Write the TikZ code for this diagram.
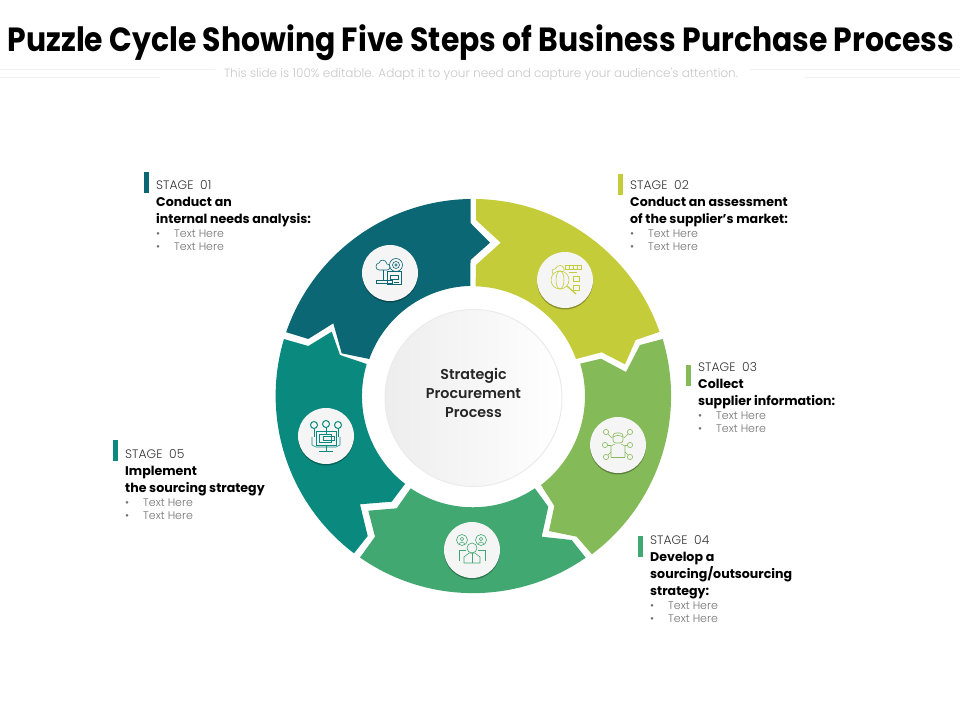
\documentclass[tikz,border=0pt]{standalone}
\usepackage{fontspec}
\setmainfont{Poppins}
\newfontfamily\lightfont{Poppins Light}
\newfontfamily\hubfont{Poppins SemiBold}
\usepackage{tikz}
\usetikzlibrary{positioning,shadows}

\definecolor{tealA}{HTML}{0B6774}
\definecolor{limeB}{HTML}{C5CC3A}
\definecolor{greenC}{HTML}{84BA57}
\definecolor{greenD}{HTML}{41A871}
\definecolor{tealE}{HTML}{0A8A7F}

\newcommand{\bulletline}{\makebox[18pt][l]{\textbullet}Text Here}

\tikzset{
  iconbg/.style={circle, fill=white!96!black, minimum size=56pt, inner sep=0pt,
    drop shadow={shadow xshift=0pt, shadow yshift=-1.5pt, opacity=0.3, fill=black}},
  iconline/.style={line width=0.6pt, fill=none},
  stagebar/.style={minimum width=5pt, minimum height=21pt, inner sep=0pt},
  stagetxt/.style={anchor=north west, align=left, inner sep=0pt, font=\fontsize{12.3}{13}\lightfont, text=black!80},
  stagehead/.style={anchor=north west, align=left, inner sep=0pt, font=\fontsize{12.6}{17}\selectfont\bfseries, text=black},
  stagelist/.style={anchor=north west, align=left, inner sep=0pt, font=\fontsize{11}{13}\lightfont, text=black!55},
}

\begin{document}
\begin{tikzpicture}[x=1pt, y=1pt]
  \useasboundingbox (0,0) rectangle (960,720);

  % Titolo
  \node (title) at (481,677) [font=\fontsize{33.5}{36}\selectfont\bfseries, inner sep=0pt, xscale=0.892, transform shape] {Puzzle Cycle Showing Five Steps of Business Purchase Process};
  \node (subtitle) at (481,645.5) [font=\fontsize{12}{13}\lightfont, text=black!22, inner sep=0pt] {This slide is 100\% editable. Adapt it to your need and capture your audience's attention.};
  \coordinate (ruleAa) at (0,651);
  \coordinate (ruleAb) at (215,651);
  \coordinate (ruleBa) at (0,643);
  \coordinate (ruleBb) at (160,643);
  \coordinate (ruleCa) at (750,651);
  \coordinate (ruleCb) at (960,651);
  \coordinate (ruleDa) at (805,643);
  \coordinate (ruleDb) at (960,643);
  \draw[black!5] (ruleAa) -- (ruleAb);
  \draw[black!5] (ruleBa) -- (ruleBb);
  \draw[black!5] (ruleCa) -- (ruleCb);
  \draw[black!5] (ruleDa) -- (ruleDb);

  % Settori
  \fill[tealA] (470.5,521) arc[start angle=90.7, end angle=161, radius=197.5]
    -- (308.3,381) -- (333.3,396.7) -- (341.7,366.7) -- (369.3,361)
    arc[start angle=160.4, end angle=91.3, radius=110]
    -- (470.5,460) -- (490,477.3) -- (470.5,497) -- cycle;
  \fill[limeB] (476,521) arc[start angle=89.1, end angle=19.1, radius=197.5]
    -- (635.7,380) -- (625,355.7) -- (601.7,367.7) -- (576,361)
    arc[start angle=19.8, end angle=88.4, radius=110]
    -- (476,455) -- (500.7,477.3) -- (476,500) -- cycle;
  \fill[greenC] (662.7,381) arc[start angle=16.7, end angle=-53.1, radius=198]
    -- (576.7,183.3) -- (549,189) -- (554.3,214) -- (541,235)
    arc[start angle=-52.6, end angle=16.8, radius=112]
    -- (601,361.3) -- (626,348) -- (640,375) -- cycle;
  \fill[greenD] (585.7,162.3) arc[start angle=-55.1, end angle=-125, radius=197]
    -- (375,183.3) -- (368.3,209.3) -- (396.7,211.7) -- (410.7,231.7)
    arc[start angle=-124, end angle=-56, radius=111]
    -- (548.3,213.3) -- (541.7,183.3) -- (571.7,180) -- cycle;
  \fill[tealE] (354,166.7) arc[start angle=232.9, end angle=163.3, radius=197.5]
    -- (308.3,374) -- (331.7,388.3) -- (340,365) -- (366.7,356)
    arc[start angle=163.2, end angle=232.3, radius=111]
    -- (391.7,218.3) -- (360,215.7) -- (367.7,184) -- cycle;

  % Centro
  \node (hub) at (473.5,322) [circle, minimum size=177pt, inner sep=0pt, draw=black!8, line width=1pt,
    left color=black!7, right color=white] {};
  \node (hubtext) at (473.5,327) [align=center, inner sep=0pt, font=\fontsize{14.3}{19}\hubfont, text=black!85] {Strategic\\Procurement\\Process};

  % Cerchi
  \node (iconA) at (390,447) [iconbg] {};
  \node (iconB) at (565,440) [iconbg] {};
  \node (iconC) at (618,275) [iconbg] {};
  \node (iconD) at (472,170) [iconbg] {};
  \node (iconE) at (326,284) [iconbg] {};

  % Icona 1
  \begin{scope}[shift={(iconA.center)}, iconline, tealA]
    \draw (-3,3) .. controls (1,3) and (1,9) .. (-3,9) .. controls (-4,14) and (-10,14) .. (-11,10) .. controls (-15,10) and (-15,3) .. (-11,3) -- cycle;
    \draw (6,8) circle (6.5);
    \draw (6,8) circle (3.5);
    \draw (6,8) circle (1.2);
    \draw (-3,2) rectangle (11,-11);
    \draw (0,-2) rectangle (8,-6);
    \draw (-7,3) -- (-7,-8);
    \draw (-14,-7) rectangle (2,-10);
    \draw (4,-9) -- (9,-9);
  \end{scope}

  % Icona 2
  \begin{scope}[shift={(iconB.center)}, iconline, limeB]
    \draw (-5,0) circle (9);
    \draw (-5,0) ellipse (4 and 9);
    \draw (-10,11) .. controls (-8,16) and (0,16) .. (-1,9);
    \draw (-12,6) .. controls (-14,10) and (-12,12) .. (-10,11);
    \draw[line width=1.2pt] (2,-6) -- (11,-14);
    \draw (0,15) rectangle (16,11);
    \draw (4,15) -- (4,11);
    \draw (8,15) -- (8,11);
    \draw (12,15) -- (12,11);
    \draw (8,4) rectangle (14,-1);
    \draw (8,-5) rectangle (14,-10);
    \draw (4,8) -- (12,8);
  \end{scope}

  % Icona 3
  \begin{scope}[shift={(iconC.center)}, iconline, greenC]
    \draw[rounded corners=3pt] (-5,12) rectangle (5,2);
    \draw (-5,8) .. controls (-2,10) and (2,10) .. (5,8);
    \draw (-7,-12) -- (-7,-1) -- (-3,1);
    \draw (7,-12) -- (7,-1) -- (3,1);
    \draw (-7,-12) -- (7,-12);
    \draw (-12,13) circle (2.6);
    \draw (12,13) circle (2.6);
    \draw (-13,0) circle (2.6);
    \draw (12,0) circle (2.6);
    \draw (-12,-12) circle (2.6);
    \draw (12,-12) circle (2.6);
    \draw (-10,11) -- (-6,7);
    \draw (10,11) -- (6,7);
    \draw (-10.4,0) -- (-7,0);
    \draw (9.4,0) -- (7,0);
    \draw (-10,-10) -- (-7,-7);
    \draw (10,-10) -- (7,-7);
  \end{scope}

  % Icona 4
  \begin{scope}[shift={(iconD.center)}, iconline, greenD]
    \draw (-10,10) circle (5.5);
    \draw (9,10) circle (5.5);
    \draw (-10,11) circle (1.8);
    \draw (9,11) circle (1.8);
    \draw (-13,6.5) -- (-10,8) -- (-7,6.5);
    \draw (12,6.5) -- (9,8) -- (6,6.5);
    \draw (0,2) circle (5);
    \draw (-8,-13) -- (-8,-7) -- (-3,-3) -- (3,-3) -- (8,-7) -- (8,-13) -- cycle;
    \draw (0,-3) -- (0,-13);
    \draw (-13,0) -- (-13,-11);
    \draw (13,0) -- (13,-11);
    \draw (-13,0) -- (-6,0);
    \draw (13,0) -- (6,0);
  \end{scope}

  % Icona 5
  \begin{scope}[shift={(iconE.center)}, iconline, tealE]
    \draw[line width=1pt] (-12,11) circle (3.5);
    \draw[line width=1pt] (0,12) circle (3.5);
    \draw[line width=1pt] (12,11) circle (3.5);
    \draw (-10,-9) rectangle (10,5);
    \draw (-7,-6) rectangle (5,2);
    \draw (-3,0) rectangle (8,-4);
    \draw (-12,7.5) -- (-12,-1);
    \draw (12,7.5) -- (12,-1);
    \draw (0,8.5) -- (0,2);
    \draw (-7,-15) -- (7,-15);
    \draw (0,-9) -- (0,-15);
    \draw (-14,-1) -- (-14,-9) -- (-10,-11) -- (10,-11) -- (14,-9) -- (14,-1);
  \end{scope}

  % Stage 01
  \node (barA) at (146.5,537.5) [stagebar, fill=tealA] {};
  \node (stageA) at (156,539.5) [stagetxt] {STAGE\ \ 01};
  \node (headA) at (156,523) [stagehead] {Conduct an\\internal needs analysis:};
  \node (listA) at (156,490.5) [stagelist] {\bulletline\\\bulletline};

  % Stage 02
  \node (barB) at (620.5,535.5) [stagebar, fill=limeB] {};
  \node (stageB) at (630,539.5) [stagetxt] {STAGE\ \ 02};
  \node (headB) at (630,523) [stagehead] {Conduct an assessment\\of the supplier's market:};
  \node (listB) at (630,490.5) [stagelist] {\bulletline\\\bulletline};

  % Stage 03
  \node (barC) at (688.5,344.5) [stagebar, fill=greenC] {};
  \node (stageC) at (698,357.5) [stagetxt] {STAGE\ \ 03};
  \node (headC) at (698,341) [stagehead] {Collect\\supplier information:};
  \node (listC) at (698,308.5) [stagelist] {\bulletline\\\bulletline};

  % Stage 04
  \node (barD) at (640.5,173.5) [stagebar, fill=greenD] {};
  \node (stageD) at (650,184.5) [stagetxt] {STAGE\ \ 04};
  \node (headD) at (650,168) [stagehead] {Develop a\\sourcing/outsourcing\\strategy:};
  \node (listD) at (650,118.5) [stagelist] {\bulletline\\\bulletline};

  % Stage 05
  \node (barE) at (115.5,269.5) [stagebar, fill=tealE] {};
  \node (stageE) at (125,270.5) [stagetxt] {STAGE\ \ 05};
  \node (headE) at (125,254) [stagehead] {Implement\\the sourcing strategy};
  \node (listE) at (125,221.5) [stagelist] {\bulletline\\\bulletline};
\end{tikzpicture}
\end{document}
